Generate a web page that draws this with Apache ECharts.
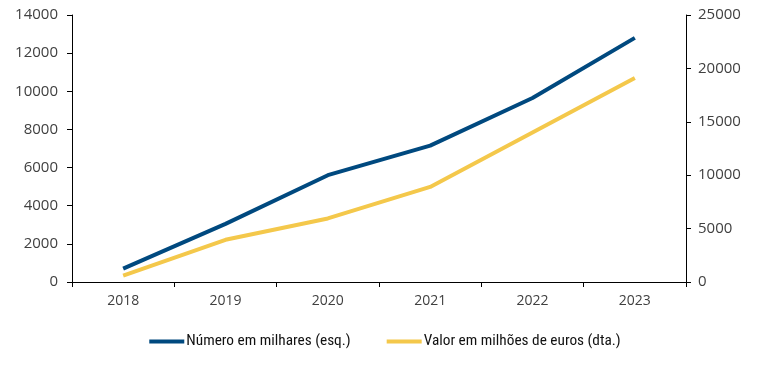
<!DOCTYPE html>
<html><head><meta charset="utf-8">
<script src="https://cdn.jsdelivr.net/npm/echarts@6/dist/echarts.min.js"></script>
<style>html,body{margin:0;padding:0;background:#fff}#c{width:770px;height:371px}</style>
</head><body><div id="c"></div>
<script>
const years = ['2018','2019','2020','2021','2022','2023'];
const numeroMilhares = [700, 3050, 5600, 7150, 9650, 12800];
const valorMilhoes = [600, 3950, 5950, 8900, 14000, 19100];
const seriesNames = ['Número em milhares (esq.)', 'Valor em milhões de euros (dta.)'];

const axisFont = {color:'#404040', fontSize:15, fontFamily:'Open Sans', formatter:v=>String(v)};
const chart = echarts.init(document.getElementById('c'));
chart.setOption({
  animation:false,
  grid:{left:72, right:84, top:15, bottom:89},
  legend:{
    bottom:17, left:'center', itemWidth:35, itemHeight:4, itemGap:36,
    icon:'rect',
    textStyle:{color:'#111', fontSize:15.3, fontFamily:'Liberation Sans Narrow, Roboto Condensed, Arial Narrow, sans-serif', padding:[0,0,0,-3]},
    data:seriesNames
  },
  xAxis:{
    type:'category', data:years, boundaryGap:true,
    axisLine:{lineStyle:{color:'#000', width:1}},
    axisTick:{show:true, length:5, lineStyle:{color:'#000'}},
    axisLabel:{margin:12, color:'#404040', fontSize:14, fontFamily:'Open Sans'}
  },
  yAxis:[
    {type:'value', min:0, max:14000, interval:2000, position:'left',
     axisLine:{show:true, lineStyle:{color:'#000'}},
     axisTick:{show:true, length:5, lineStyle:{color:'#000'}},
     splitLine:{show:false},
     axisLabel:Object.assign({margin:14}, axisFont)},
    {type:'value', min:0, max:25000, interval:5000, position:'right',
     axisLine:{show:true, lineStyle:{color:'#000'}},
     axisTick:{show:true, length:5, lineStyle:{color:'#000'}},
     splitLine:{show:false},
     axisLabel:Object.assign({margin:12}, axisFont)}
  ],
  series:[
    {name:seriesNames[0], type:'line', yAxisIndex:0, data:numeroMilhares, symbol:'none',
     lineStyle:{color:'#00497F', width:4}, itemStyle:{color:'#00497F'}},
    {name:seriesNames[1], type:'line', yAxisIndex:1, data:valorMilhoes, symbol:'none',
     lineStyle:{color:'#F4C84B', width:4}, itemStyle:{color:'#F4C84B'}}
  ]
});
</script></body></html>
